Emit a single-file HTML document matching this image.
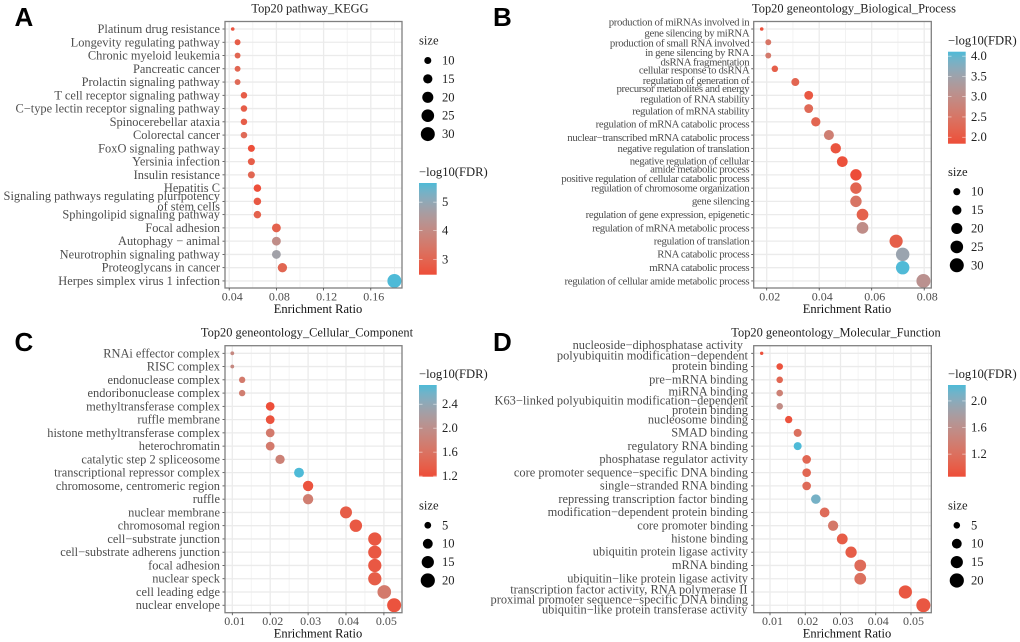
<!DOCTYPE html>
<html lang="en">
<head>
<meta charset="utf-8">
<title>Enrichment dot plots</title>
<style>
html,body{margin:0;padding:0;background:#fff;}
svg{display:block;font-family:"Liberation Serif",serif;filter:blur(0.35px);}
text{dominant-baseline:central;}
.cat{fill:#4d4d4d;font-size:12.4px;text-anchor:end;}
.catB{font-size:10.8px;letter-spacing:-0.33px;}
.catD{font-size:12.4px;}
.tick{fill:#4d4d4d;font-size:12px;text-anchor:middle;}
.ttl{fill:#222;font-size:12.4px;text-anchor:middle;}
.xt{fill:#111;font-size:12.5px;text-anchor:middle;}
.leg{fill:#222;font-size:12.6px;}
.let{font-family:"Liberation Sans",sans-serif;font-weight:bold;font-size:26px;fill:#000;}
</style>
</head>
<body>
<svg id="fig" xmlns="http://www.w3.org/2000/svg" width="1020" height="642" viewBox="0 0 1020 642">
<defs>
<linearGradient id="cbar" x1="0" y1="1" x2="0" y2="0"></linearGradient>
</defs>
<rect width="1020" height="642" fill="#fff"/>
<text class="let" x="14.5" y="17">A</text>
<text class="let" x="493" y="17">B</text>
<text class="let" x="14.5" y="342">C</text>
<text class="let" x="493" y="342">D</text>
<g id="pA"></g>
<g id="pB"></g>
<g id="pC"></g>
<g id="pD"></g>

<g>
<text class="cat catB" x="749.3" y="22.7">production of miRNAs involved in</text>
<text class="cat catB" x="749.3" y="33.3">gene silencing by miRNA</text>
<text class="cat catB" x="749.3" y="43.3">production of small RNA involved</text>
<text class="cat catB" x="749.3" y="53">in gene silencing by RNA</text>
<text class="cat catB" x="749.3" y="62.3">dsRNA fragmentation</text>
<text class="cat catB" x="749.3" y="70.7">cellular response to dsRNA</text>
<text class="cat catB" x="749.3" y="81">regulation of generation of</text>
<text class="cat catB" x="749.3" y="89">precursor metabolites and energy</text>
<text class="cat catB" x="749.3" y="99.3">regulation of RNA stability</text>
<text class="cat catB" x="749.3" y="111.3">regulation of mRNA stability</text>
<text class="cat catB" x="749.3" y="124.7">regulation of mRNA catabolic process</text>
<text class="cat catB" x="749.3" y="138">nuclear−transcribed mRNA catabolic process</text>
<text class="cat catB" x="749.3" y="149">negative regulation of translation</text>
<text class="cat catB" x="749.3" y="161.3">negative regulation of cellular</text>
<text class="cat catB" x="749.3" y="169.7">amide metabolic process</text>
<text class="cat catB" x="749.3" y="179">positive regulation of cellular catabolic process</text>
<text class="cat catB" x="749.3" y="188.7">regulation of chromosome organization</text>
<text class="cat catB" x="749.3" y="201.3">gene silencing</text>
<text class="cat catB" x="749.3" y="215">regulation of gene expression, epigenetic</text>
<text class="cat catB" x="749.3" y="228.3">regulation of mRNA metabolic process</text>
<text class="cat catB" x="749.3" y="241.3">regulation of translation</text>
<text class="cat catB" x="749.3" y="254.7">RNA catabolic process</text>
<text class="cat catB" x="749.3" y="268">mRNA catabolic process</text>
<text class="cat catB" x="749.3" y="281.3">regulation of cellular amide metabolic process</text>
</g>

<g>
<text class="cat catD" x="743" y="345">nucleoside−diphosphatase activity</text>
<text class="cat catD" x="748" y="355.7">polyubiquitin modification−dependent</text>
<text class="cat catD" x="748" y="366">protein binding</text>
<text class="cat catD" x="748" y="379.3">pre−mRNA binding</text>
<text class="cat catD" x="748" y="391.3">miRNA binding</text>
<text class="cat catD" x="748" y="400.3">K63−linked polyubiquitin modification−dependent</text>
<text class="cat catD" x="748" y="410">protein binding</text>
<text class="cat catD" x="748" y="419.3">nucleosome binding</text>
<text class="cat catD" x="748" y="432.7">SMAD binding</text>
<text class="cat catD" x="748" y="446">regulatory RNA binding</text>
<text class="cat catD" x="748" y="459">phosphatase regulator activity</text>
<text class="cat catD" x="748" y="472.3">core promoter sequence−specific DNA binding</text>
<text class="cat catD" x="748" y="485.7">single−stranded RNA binding</text>
<text class="cat catD" x="748" y="499">repressing transcription factor binding</text>
<text class="cat catD" x="748" y="512">modification−dependent protein binding</text>
<text class="cat catD" x="748" y="525.3">core promoter binding</text>
<text class="cat catD" x="748" y="538.7">histone binding</text>
<text class="cat catD" x="748" y="551.7">ubiquitin protein ligase activity</text>
<text class="cat catD" x="748" y="565">mRNA binding</text>
<text class="cat catD" x="748" y="578.3">ubiquitin−like protein ligase activity</text>
<text class="cat catD" x="747.5" y="589.7">transcription factor activity, RNA polymerase II</text>
<text class="cat catD" x="748" y="599.7">proximal promoter sequence−specific DNA binding</text>
<text class="cat catD" x="747.5" y="609.3">ubiquitin−like protein transferase activity</text>
</g>
</svg>

<script>
// ---------- Panel A data ----------
const categoriesA = ["Platinum drug resistance","Longevity regulating pathway","Chronic myeloid leukemia","Pancreatic cancer","Prolactin signaling pathway","T cell receptor signaling pathway","C−type lectin receptor signaling pathway","Spinocerebellar ataxia","Colorectal cancer","FoxO signaling pathway","Yersinia infection","Insulin resistance","Hepatitis C","Signaling pathways regulating pluripotency\nof stem cells","Sphingolipid signaling pathway","Focal adhesion","Autophagy − animal","Neurotrophin signaling pathway","Proteoglycans in cancer","Herpes simplex virus 1 infection"];
const ratioA = [0.043,0.0471,0.0471,0.0471,0.0471,0.0525,0.0525,0.0525,0.0525,0.0588,0.0588,0.0588,0.0639,0.0639,0.0639,0.08,0.08,0.08,0.0851,0.18];
const sizeA = [5,8,8,8,8,9,9,9,9,10,10,10,11,11,11,14,14,14,15,30];
const fdrA = [2.6,2.8,3.0,3.0,3.1,2.8,2.8,2.8,3.1,2.5,2.8,3.0,2.5,2.7,2.9,2.9,4.1,4.75,3.0,5.67];
const xTicksA = [0.04,0.08,0.12,0.16];
const xTickLabelsA = ["0.04","0.08","0.12","0.16"];
const sizeLegendA = [10,15,20,25,30];
const colorTicksA = [3,4,5];
const colorTickLabelsA = ["3","4","5"];

// ---------- Panel B data ----------
const categoriesB = ["production of miRNAs involved in gene silencing by miRNA","production of small RNA involved in gene silencing by RNA","dsRNA fragmentation","cellular response to dsRNA","regulation of generation of precursor metabolites and energy","regulation of RNA stability","regulation of mRNA stability","regulation of mRNA catabolic process","nuclear−transcribed mRNA catabolic process","negative regulation of translation","negative regulation of cellular amide metabolic process","positive regulation of cellular catabolic process","regulation of chromosome organization","gene silencing","regulation of gene expression, epigenetic","regulation of mRNA metabolic process","regulation of translation","RNA catabolic process","mRNA catabolic process","regulation of cellular amide metabolic process"];
const ratioB = [0.0181,0.0206,0.0206,0.0231,0.0309,0.036,0.036,0.0387,0.0437,0.0463,0.0488,0.054,0.054,0.054,0.0565,0.0565,0.0693,0.0718,0.0718,0.0797];
const sizeB = [5,8,8,9,12,14,14,15,17,18,19,21,21,21,22,22,27,28,28,30];
const fdrB = [1.9,2.5,2.6,2.1,2.2,2.0,2.3,2.2,2.7,1.95,1.9,1.85,2.2,2.5,2.15,3.0,2.1,3.55,4.1,3.1];
const xTicksB = [0.02,0.04,0.06,0.08];
const xTickLabelsB = ["0.02","0.04","0.06","0.08"];
const sizeLegendB = [10,15,20,25,30];
const colorTicksB = [2,2.5,3,3.5,4];
const colorTickLabelsB = ["2.0","2.5","3.0","3.5","4.0"];

// ---------- Panel C data ----------
const categoriesC = ["RNAi effector complex","RISC complex","endonuclease complex","endoribonuclease complex","methyltransferase complex","ruffle membrane","histone methyltransferase complex","heterochromatin","catalytic step 2 spliceosome","transcriptional repressor complex","chromosome, centromeric region","ruffle","nuclear membrane","chromosomal region","cell−substrate junction","cell−substrate adherens junction","focal adhesion","nuclear speck","cell leading edge","nuclear envelope"];
const ratioC = [0.01,0.01,0.0126,0.0126,0.02,0.02,0.02,0.02,0.0226,0.0276,0.03,0.03,0.04,0.0426,0.0476,0.0476,0.0476,0.0476,0.0501,0.0527];
const sizeC = [2,2,4.5,4.5,8,8,8,8,9,10,11,11,14.5,15.5,17.5,17.5,17.5,17.5,18.5,19.5];
const fdrC = [1.9,1.9,1.7,1.75,1.2,1.25,1.7,1.7,1.8,2.72,1.25,1.75,1.35,1.3,1.3,1.3,1.3,1.35,1.7,1.25];
const xTicksC = [0.01,0.02,0.03,0.04,0.05];
const xTickLabelsC = ["0.01","0.02","0.03","0.04","0.05"];
const sizeLegendC = [5,10,15,20];
const colorTicksC = [1.2,1.6,2.0,2.4];
const colorTickLabelsC = ["1.2","1.6","2.0","2.4"];

// ---------- Panel D data ----------
const categoriesD = ["nucleoside−diphosphatase activity","polyubiquitin modification−dependent protein binding","pre−mRNA binding","miRNA binding","K63−linked polyubiquitin modification−dependent protein binding","nucleosome binding","SMAD binding","regulatory RNA binding","phosphatase regulator activity","core promoter sequence−specific DNA binding","single−stranded RNA binding","repressing transcription factor binding","modification−dependent protein binding","core promoter binding","histone binding","ubiquitin protein ligase activity","mRNA binding","ubiquitin−like protein ligase activity","transcription factor activity, RNA polymerase II proximal promoter sequence−specific DNA binding","ubiquitin−like protein transferase activity"];
const ratioD = [0.00764,0.01275,0.01275,0.01275,0.01275,0.0153,0.01785,0.01785,0.0204,0.0204,0.0204,0.023,0.0255,0.0279,0.0305,0.033,0.0356,0.0356,0.0484,0.0535];
const sizeD = [2,5,5,5,5,6,7,7,8,8,8,9.5,10,11,12,13,14,14,17.5,19.5];
const fdrD = [0.9,0.9,1.1,1.4,1.55,0.9,1.2,2.24,1.1,1.1,1.15,2.1,1.15,1.3,1.0,1.0,1.15,1.2,0.95,0.95];
const xTicksD = [0.01,0.02,0.03,0.04,0.05];
const xTickLabelsD = ["0.01","0.02","0.03","0.04","0.05"];
const sizeLegendD = [5,10,15,20];
const colorTicksD = [1.2,1.6,2.0];
const colorTickLabelsD = ["1.2","1.6","2.0"];

const NS = "http://www.w3.org/2000/svg";
function mk(parent, tag, attrs, txt) {
  const el = document.createElementNS(NS, tag);
  for (const k in attrs) el.setAttribute(k, attrs[k]);
  if (txt !== undefined) el.textContent = txt;
  parent.appendChild(el);
  return el;
}
// Lab interpolation between the two palette endpoints
const labLow = [55.7, 60.6, 46.4];
const labHigh = [70.6, -22.0, -24.0];
function labToRgb(L, a, b) {
  const fy = (L + 16) / 116, fx = fy + a / 500, fz = fy - b / 200;
  const f = t => t > 0.2069 ? t*t*t : (t - 16/116) / 7.787;
  const x = 0.95047 * f(fx), y = f(fy), z = 1.08883 * f(fz);
  const lin = [3.2406*x - 1.5372*y - 0.4986*z, -0.9689*x + 1.8758*y + 0.0415*z, 0.0557*x - 0.2040*y + 1.0570*z];
  return lin.map(c => {
    c = Math.max(0, Math.min(1, c));
    const s = c <= 0.0031308 ? 12.92*c : 1.055*Math.pow(c, 1/2.4) - 0.055;
    return Math.round(s*255);
  });
}
function mix(t) {
  t = Math.max(0, Math.min(1, t));
  const p = labLow.map((c,i) => c + (labHigh[i]-c)*t);
  return "rgb(" + labToRgb(p[0], p[1], p[2]).join(",") + ")";
}
const gradEl = document.getElementById("cbar");
for (let i = 0; i <= 12; i++) {
  mk(gradEl, "stop", {offset:i/12, "stop-color":mix(i/12)});
}

function drawPanel(o) {
  const g = document.getElementById(o.id);
  const L = o.frame;
  const X = v => L.gridX + (v - o.xTicks[0]) * L.pxPerUnit;
  const Y = i => L.rowTop + i * L.rowStep;
  const fdrT = v => (v - L.fdrLo) / (L.fdrHi - L.fdrLo);
  const R = s => Math.sqrt(L.rMin*L.rMin + (s - L.sLo) / (L.sHi - L.sLo) * (L.rMax*L.rMax - L.rMin*L.rMin));

  // panel background
  const bg = mk(g, "rect", {x:L.x0, y:L.y0, width:L.x1-L.x0, height:L.y1-L.y0, fill:"#fff"});
  
  

  // grid
  const step = o.xTicks[1] - o.xTicks[0];
  for (let k = -1; k <= o.xTicks.length; k++) {
    const minorV = o.xTicks[0] + (k + 0.5) * step;
    const px = X(minorV);
    if (px > L.x0 && px < L.x1) {
      const m = mk(g, "line", {x1:px, x2:px, y1:L.y0, y2:L.y1, stroke:"#f0f0f0", "stroke-width":0.8});
      
      
    }
  }
  o.xTicks.forEach(v => {
    const px = X(v);
    const m = mk(g, "line", {x1:px, x2:px, y1:L.y0, y2:L.y1, stroke:"#ebebeb", "stroke-width":1.3});
    
    
  });
  o.categories.forEach((c, i) => {
    const h = mk(g, "line", {x1:L.x0, x2:L.x1, y1:Y(i), y2:Y(i), stroke:"#ebebeb", "stroke-width":1.3});
    
    
    const t = mk(g, "line", {x1:L.x0-2.5, x2:L.x0, y1:Y(i), y2:Y(i), stroke:"#444", "stroke-width":0.8});
    
    
  });

  // points
  o.ratio.forEach((v, i) => {
    const c = mk(g, "circle", {cx:X(v), cy:Y(i), r:R(o.size[i]), fill:mix(fdrT(o.fdr[i]))});
    
    
  });

  // border
  const bd = mk(g, "rect", {x:L.x0, y:L.y0, width:L.x1-L.x0, height:L.y1-L.y0, fill:"none", stroke:"#808080", "stroke-width":1.3});
  
  

  // x ticks
  o.xTicks.forEach((v, i) => {
    const px = X(v);
    const m = mk(g, "line", {x1:px, x2:px, y1:L.y1, y2:L.y1+2.5, stroke:"#444", "stroke-width":0.8});
    
    
    const t = mk(g, "text", {class:"tick", x:px+L.labelShift, y:L.y1+8.3}, o.xTickLabels[i]);
    
    
  });

  // category labels (regular panels)
  if (o.drawCategories) {
    o.categories.forEach((c, i) => {
      const lines = c.split("\n");
      lines.forEach((ln, j) => {
        const yy = lines.length > 1 ? Y(i) + (j - 0.5) * 10.3 : Y(i);
        const t = mk(g, "text", {class:"cat", x:L.x0-5, y:yy}, ln);
        
        
      });
    });
  }

  // titles
  const tt = mk(g, "text", {class:"ttl", x:L.titleX, y:L.titleY}, o.title);
  
  
  const xt = mk(g, "text", {class:"xt", x:L.xTitleX, y:L.y1+21}, "Enrichment Ratio");
  
  

  // colour legend
  const ct = mk(g, "text", {class:"leg", x:L.legX, y:L.colorTitleY}, "−log10(FDR)");
  
  
  const bar = mk(g, "rect", {x:L.legX, y:L.barY0, width:17.7, height:L.barY1-L.barY0, fill:"url(#cbar)"});
  
  
  const barY = v => L.barY1 - fdrT(v) * (L.barY1 - L.barY0);
  o.colorTicks.forEach((v, i) => {
    const yy = barY(v);
    [[L.legX, L.legX+3.5], [L.legX+14.2, L.legX+17.7]].forEach(p => {
      const m = mk(g, "line", {x1:p[0], x2:p[1], y1:yy, y2:yy, stroke:"#fff", "stroke-width":0.6, "stroke-opacity":0.8});
      
      
    });
    const t = mk(g, "text", {class:"leg", x:L.legX+23, y:yy}, o.colorTickLabels[i]);
    
    
  });

  // size legend
  const st = mk(g, "text", {class:"leg", x:L.legX, y:L.sizeTitleY}, "size");
  
  
  o.sizeLegend.forEach((s, i) => {
    const yy = L.sizeY0 + i * 18.4;
    const d = mk(g, "circle", {cx:L.legX+8.8, cy:yy, r:R(s), fill:"#000"});
    
    
    const t = mk(g, "text", {class:"leg", x:L.legX+23, y:yy}, String(s));
    
    
  });
}

drawPanel({
  id:"pA", title:"Top20 pathway_KEGG", drawCategories:true,
  categories:categoriesA, ratio:ratioA, size:sizeA, fdr:fdrA,
  xTicks:xTicksA, xTickLabels:xTickLabelsA, sizeLegend:sizeLegendA, colorTicks:colorTicksA, colorTickLabels:colorTickLabelsA,
  frame:{x0:225,x1:402,y0:21.5,y1:288,gridX:229.2,pxPerUnit:1180,rowTop:29,rowStep:13.26,labelShift:3,
    fdrLo:2.46,fdrHi:5.67,rMin:1.8,rMax:7,sLo:5,sHi:30,
    titleX:310,titleY:8.5,xTitleX:318,legX:419,colorTitleY:172,barY0:183,barY1:274.7,sizeTitleY:40.7,sizeY0:60.5}
});
drawPanel({
  id:"pB", title:"Top20 geneontology_Biological_Process", drawCategories:false,
  categories:categoriesB, ratio:ratioB, size:sizeB, fdr:fdrB,
  xTicks:xTicksB, xTickLabels:xTickLabelsB, sizeLegend:sizeLegendB, colorTicks:colorTicksB, colorTickLabels:colorTickLabelsB,
  frame:{x0:753.7,x1:931.3,y0:21.5,y1:288,gridX:766.7,pxPerUnit:2625,rowTop:29,rowStep:13.26,labelShift:3,
    fdrLo:1.84,fdrHi:4.11,rMin:1.8,rMax:7,sLo:5,sHi:30,
    titleX:854,titleY:8.5,xTitleX:847,legX:948,colorTitleY:40.7,barY0:51.7,barY1:143.7,sizeTitleY:172,sizeY0:191.7}
});
drawPanel({
  id:"pC", title:"Top20 geneontology_Cellular_Component", drawCategories:true,
  categories:categoriesC, ratio:ratioC, size:sizeC, fdr:fdrC,
  xTicks:xTicksC, xTickLabels:xTickLabelsC, sizeLegend:sizeLegendC, colorTicks:colorTicksC, colorTickLabels:colorTickLabelsC,
  frame:{x0:225,x1:402,y0:345.7,y1:612.7,gridX:232.3,pxPerUnit:3790,rowTop:353.3,rowStep:13.26,labelShift:2.5,
    fdrLo:1.19,fdrHi:2.72,rMin:1.9,rMax:7,sLo:2,sHi:19.5,
    titleX:307,titleY:332.7,xTitleX:318,legX:419,colorTitleY:374,barY0:385,barY1:476.7,sizeTitleY:505.3,sizeY0:525.3}
});
drawPanel({
  id:"pD", title:"Top20 geneontology_Molecular_Function", drawCategories:false,
  categories:categoriesD, ratio:ratioD, size:sizeD, fdr:fdrD,
  xTicks:xTicksD, xTickLabels:xTickLabelsD, sizeLegend:sizeLegendD, colorTicks:colorTicksD, colorTickLabels:colorTickLabelsD,
  frame:{x0:753.7,x1:931.3,y0:345.7,y1:612.7,gridX:770,pxPerUnit:3525,rowTop:353.3,rowStep:13.26,labelShift:2.5,
    fdrLo:0.86,fdrHi:2.24,rMin:1.7,rMax:7,sLo:2,sHi:19.5,
    titleX:836,titleY:332.7,xTitleX:847,legX:948,colorTitleY:374,barY0:385,barY1:476.7,sizeTitleY:505.3,sizeY0:525.3}
});
</script>
</body>
</html>
